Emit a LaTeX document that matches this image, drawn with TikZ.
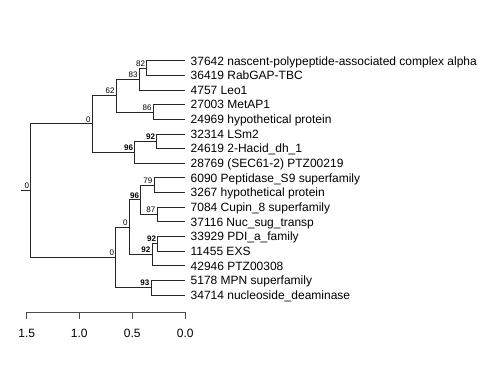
\documentclass[tikz,border=0pt]{standalone}
\usepackage{fontspec}
\setmainfont{Liberation Sans}
\tikzset{
  branch/.style={draw=black!85, line width=0.75pt},
  leaf/.style={anchor=west, inner xsep=5.5pt, inner ysep=0pt, text height=9pt, text depth=0.4pt, font=\fontsize{12}{14}\selectfont},
  boot/.style={anchor=south east, inner sep=0pt, xshift=-1.5pt, yshift=1.5pt, font=\fontsize{8}{9}\selectfont},
  bootb/.style={boot, font=\fontsize{8}{9}\selectfont\bfseries},
  axis/.style={draw=black!70, line width=0.75pt}
}
\begin{document}
\begin{tikzpicture}[x=1pt, y=-1pt]
\useasboundingbox (0,0) rectangle (480,384);

\node[leaf] (l1) at (185,60.7) {37642 nascent-polypeptide-associated complex alpha};
\node[leaf] (l2) at (185,75.3) {36419 RabGAP-TBC};
\node[leaf] (l3) at (185,90.0) {4757 Leo1};
\node[leaf] (l4) at (185,104.6) {27003 MetAP1};
\node[leaf] (l5) at (185,119.3) {24969 hypothetical protein};
\node[leaf] (l6) at (185,133.9) {32314 LSm2};
\node[leaf] (l7) at (185,148.5) {24619 2-Hacid\_dh\_1};
\node[leaf] (l8) at (185,163.2) {28769 (SEC61-2) PTZ00219};
\node[leaf] (l9) at (185,177.8) {6090 Peptidase\_S9 superfamily};
\node[leaf] (l10) at (185,192.5) {3267 hypothetical protein};
\node[leaf] (l11) at (185,207.1) {7084 Cupin\_8 superfamily};
\node[leaf] (l12) at (185,221.7) {37116 Nuc\_sug\_transp};
\node[leaf] (l13) at (185,236.4) {33929 PDI\_a\_family};
\node[leaf] (l14) at (185,251.0) {11455 EXS};
\node[leaf] (l15) at (185,265.7) {42946 PTZ00308};
\node[leaf] (l16) at (185,280.3) {5178 MPN superfamily};
\node[leaf] (l17) at (185,295.0) {34714 nucleoside\_deaminase};

\coordinate (n82) at (146.7,68.0);
\coordinate (n83) at (139.3,79.0);
\coordinate (n86) at (153.3,112.0);
\coordinate (n62) at (116.3,95.5);
\coordinate (n92a) at (156.7,141.2);
\coordinate (n96a) at (134.7,152.2);
\coordinate (n0a) at (92.3,123.8);
\coordinate (n79) at (154.0,185.1);
\coordinate (n87) at (157.0,214.4);
\coordinate (n96b) at (140.7,199.8);
\coordinate (n92b) at (157.7,243.7);
\coordinate (n92c) at (152.0,254.7);
\coordinate (n0in) at (129.3,227.2);
\coordinate (n93) at (151.0,287.7);
\coordinate (n0b) at (115.7,257.5);
\coordinate (root) at (30.7,190.6);
\coordinate (stub) at (20.7,190.6);

\foreach \p/\c in {n82/l1.west, n82/l2.west, n83/n82, n83/l3.west,
  n86/l4.west, n86/l5.west, n62/n83, n62/n86,
  n92a/l6.west, n92a/l7.west, n96a/n92a, n96a/l8.west,
  n0a/n62, n0a/n96a,
  n79/l9.west, n79/l10.west, n87/l11.west, n87/l12.west,
  n96b/n79, n96b/n87,
  n92b/l13.west, n92b/l14.west, n92c/n92b, n92c/l15.west,
  n0in/n96b, n0in/n92c,
  n93/l16.west, n93/l17.west, n0b/n0in, n0b/n93,
  root/n0a, root/n0b}
  \draw[branch] (\p) |- (\c);
\draw[branch] (stub) -- (root);

\node[boot] (b82) at (n82) {82};
\node[boot] (b83) at (n83) {83};
\node[boot] (b62) at (n62) {62};
\node[boot] (b86) at (n86) {86};
\node[boot] (b0a) at (n0a) {0};
\node[bootb] (b92a) at (n92a) {92};
\node[bootb] (b96a) at (n96a) {96};
\node[boot] (b79) at (n79) {79};
\node[boot] (b87) at (n87) {87};
\node[bootb] (b96b) at (n96b) {96};
\node[bootb] (b92b) at (n92b) {92};
\node[bootb] (b92c) at (n92c) {92};
\node[boot] (b0in) at (n0in) {0};
\node[bootb] (b93) at (n93) {93};
\node[boot] (b0b) at (n0b) {0};
\node[boot] (broot) at (root) {0};

\draw[axis] (26.7,312.3) -- (185.3,312.3);
\foreach \x/\t in {26.7/1.5, 79.3/1.0, 132.3/0.5, 185.3/0.0}
{
  \draw[axis] (\x,312.3) -- (\x,318.8);
  \node[font=\fontsize{12}{14}\selectfont] at (\x,333.3) {\t};
}
\end{tikzpicture}
\end{document}
